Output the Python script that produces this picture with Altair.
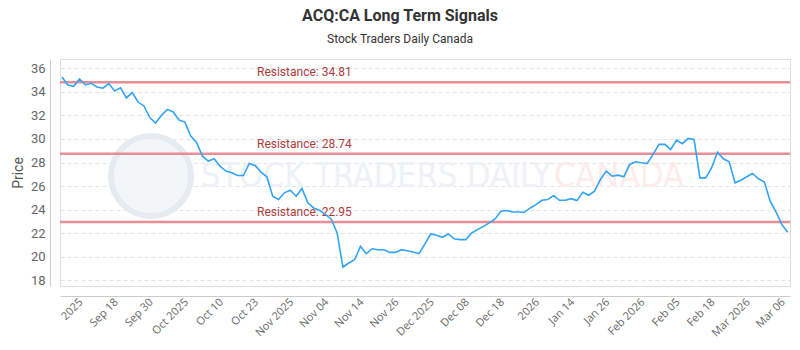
import json
import altair as alt
import pandas as pd

# ---- data ----
prices = [
    35.26, 34.58, 34.47, 35.09, 34.58, 34.72, 34.41, 34.30, 34.70, 34.07,
    34.33, 33.48, 33.93, 33.13, 32.80, 31.81, 31.35, 32.00, 32.51, 32.29,
    31.60, 31.43, 30.24, 29.68, 28.54, 28.12, 28.32, 27.69, 27.27, 27.13,
    26.90, 26.90, 27.92, 27.75, 27.18, 26.79, 25.14, 24.86, 25.43, 25.65,
    25.14, 25.80, 24.58, 24.15, 23.95, 23.60, 23.20, 22.05, 19.14, 19.48,
    19.76, 20.89, 20.27, 20.69, 20.61, 20.61, 20.38, 20.38, 20.61, 20.52,
    20.41, 20.27, 21.09, 21.94, 21.83, 21.66, 21.94, 21.54, 21.46, 21.46,
    22.03, 22.31, 22.59, 22.88, 23.22, 23.87, 23.93, 23.81, 23.81, 23.78,
    24.15, 24.43, 24.80, 24.86, 25.20, 24.80, 24.80, 24.94, 24.77, 25.48,
    25.23, 25.57, 26.56, 27.27, 26.84, 26.93, 26.79, 27.84, 28.06, 27.98,
    27.92, 28.69, 29.54, 29.54, 29.11, 29.90, 29.60, 30.05, 29.96, 26.70,
    26.70, 27.56, 28.88, 28.32, 28.06, 26.28, 26.50, 26.79, 27.07, 26.62,
    26.37, 24.72, 23.81, 22.73, 22.08,
]

tick_labels = [
    "2025", "Sep 18", "Sep 30", "Oct 2025", "Oct 10", "Oct 23", "Nov 2025",
    "Nov 04", "Nov 14", "Nov 26", "Dec 2025", "Dec 08", "Dec 18", "2026",
    "Jan 14", "Jan 26", "Feb 2026", "Feb 05", "Feb 18", "Mar 2026", "Mar 06",
]
tick_first = 2.5
tick_step = 6
tick_positions = [tick_first + tick_step * i for i in range(len(tick_labels))]

resistance_levels = [34.81, 28.74, 22.95]
resistance_names = ["Resistance: 34.81", "Resistance: 28.74", "Resistance: 22.95"]

y_ticks = [18, 20, 22, 24, 26, 28, 30, 32, 34, 36]

# ---- tables ----
df = pd.DataFrame({"idx": list(range(len(prices))), "price": prices})
res_df = pd.DataFrame({"level": resistance_levels, "label": resistance_names})
one = pd.DataFrame({"k": [0]})

FONT = "Roboto"
WM_FONT = "DejaVu Sans Condensed"
x_scale = alt.Scale(domain=[-0.34, 124.39], nice=False, zero=False)
y_scale = alt.Scale(domain=[17.53, 36.78], nice=False, zero=False)

label_expr = f"{json.dumps(tick_labels)}[round((datum.value - {tick_first}) / {tick_step})]"

x_axis = alt.Axis(
    values=tick_positions, labelExpr=label_expr, labelAngle=-45,
    labelFontSize=11, labelColor="#666666", labelFont="Open Sans",
    domainColor="#cccccc", ticks=False, grid=False, offset=10,
    labelPadding=0, title=None, labelOverlap=False,
)
y_axis = alt.Axis(
    values=y_ticks, labelFontSize=13, labelColor="#666666", labelFont=FONT,
    domainColor="#cccccc", ticks=False, offset=10, labelPadding=5,
    labelOverlap=False, labelFlush=False,
    grid=True, gridColor="#e3e3e3", gridDash=[4, 3],
    title="Price", titleFontSize=14, titleColor="#555555", titleFont=FONT,
    titleFontWeight="normal", titlePadding=5,
)

base = alt.Chart(df)
wm = alt.Chart(one)

# watermark (single-row data so each is drawn once)
wm_fill = wm.mark_point(
    shape="circle", filled=True, color="#f3f6f9", opacity=1,
).encode(x=alt.value(91), y=alt.value(117), size=alt.value(5600))
wm_circle = wm.mark_point(
    shape="circle", filled=False, stroke="#e6ebf2", strokeWidth=6, opacity=1,
).encode(x=alt.value(91), y=alt.value(117), size=alt.value(6400))
wm_text1 = wm.mark_text(
    text="STOCK TRADERS DAILY", font=WM_FONT, fontSize=34,
    color="#eef1f5", align="left", baseline="middle",
).encode(x=alt.value(141), y=alt.value(118))
wm_text2 = wm.mark_text(
    text="CANADA", font=WM_FONT, fontSize=34,
    color="#fdecec", align="left", baseline="middle",
).encode(x=alt.value(494), y=alt.value(118))

res_rules = alt.Chart(res_df).mark_rule(
    color="#e5828a", strokeWidth=2.5, opacity=0.9,
).encode(y=alt.Y("level:Q", scale=y_scale, axis=None))
res_text = alt.Chart(res_df).mark_text(
    align="left", baseline="alphabetic", dy=-6, fontSize=12, font=FONT,
    color="#b03a3a",
).encode(x=alt.value(197), y=alt.Y("level:Q", scale=y_scale, axis=None),
         text="label:N")

line = base.mark_line(color="#33a3f4", strokeWidth=1.6).encode(
    x=alt.X("idx:Q", scale=x_scale, axis=x_axis),
    y=alt.Y("price:Q", scale=y_scale, axis=y_axis),
)

chart = alt.layer(
    wm_fill, wm_circle, wm_text1, wm_text2, res_rules, res_text, line,
).resolve_axis(y="independent").properties(
    width=730, height=227,
    autosize=alt.AutoSizeParams(type="none"),
    padding={"left": 60, "top": 59, "right": 10, "bottom": 64},
    title=alt.TitleParams(
        text="ACQ:CA Long Term Signals",
        subtitle="Stock Traders Daily Canada",
        anchor="middle", dx=-25, offset=14,
        font=FONT, fontSize=16, fontWeight="bold", color="#333333",
        subtitleFont=FONT, subtitleFontSize=12, subtitleColor="#333333",
        subtitlePadding=10,
    ),
).configure_view(stroke="#888888", strokeWidth=1).configure(background="white")

chart.save("out.html", embed_options={"renderer": "svg", "actions": False})
